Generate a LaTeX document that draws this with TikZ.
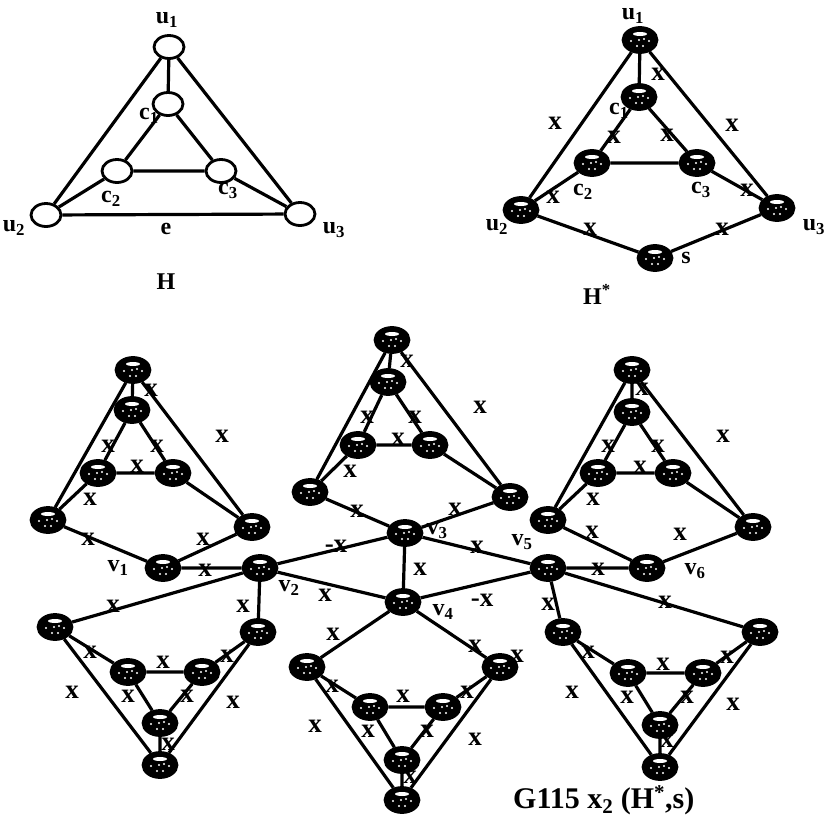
\documentclass[tikz,border=0pt]{standalone}
\usepackage{fontspec}
\setmainfont{Liberation Serif}
\usetikzlibrary{shapes.geometric}
\begin{document}
\begin{tikzpicture}[x=1pt,y=-1pt,
  wn/.style={ellipse, draw, line width=2.8pt, minimum width=30pt, minimum height=23pt, inner sep=0pt, fill=white},
  bn/.style={ellipse, draw, line width=2.8pt, fill=black, minimum width=34pt, minimum height=25pt, inner sep=0pt,
    path picture={\fill[white] ([yshift=6pt]path picture bounding box.center) ellipse (7pt and 2pt);
      \foreach \a/\b in {-9/-1,-3/-6,3/-6,9/-1,-1/0,4/1} \fill[white] ([xshift=\a pt,yshift=\b pt]path picture bounding box.center) circle (1.1pt);}},
  ed/.style={line width=3.2pt},
  xl/.style={font=\fontsize{27}{27}\selectfont\bfseries, inner sep=0pt},
  lb/.style={font=\fontsize{24}{24}\selectfont\bfseries, inner sep=0pt},
  captxt/.style={font=\fontsize{30}{30}\selectfont\bfseries, inner sep=0pt}
]
\useasboundingbox (0,0) rectangle (830,819);

% ---------------- H ----------------
\node[wn] (hu1) at (169,47) {};
\node[wn] (hc1) at (168,104) {};
\node[wn] (hc2) at (117,171) {};
\node[wn] (hc3) at (221,171) {};
\node[wn] (hu2) at (46,215) {};
\node[wn] (hu3) at (300,214) {};
\draw[ed] (hu1)--(hc1) (hc1)--(hc2) (hc1)--(hc3) (hc2)--(hc3) (hc2)--(hu2) (hc3)--(hu3)
          (hu2)--(hu3) (hu1)--(hu2) (hu1)--(hu3);
\node[lb] (lhu1) at (167,20) {u\textsubscript{1}};
\node[lb] (lhc1) at (149,116) {c\textsubscript{1}};
\node[lb] (lhc2) at (111,199) {c\textsubscript{2}};
\node[lb] (lhc3) at (228,191) {c\textsubscript{3}};
\node[lb] (lhu2) at (14,228) {u\textsubscript{2}};
\node[lb] (lhu3) at (334,230) {u\textsubscript{3}};
\node[lb] (lhe) at (166,229) {e};
\node[lb] (lhH) at (166,282) {H};

% ---------------- H* ----------------
\node[bn] (su1) at (640,40) {};
\node[bn] (sc1) at (639,97) {};
\node[bn] (sc2) at (592,163) {};
\node[bn] (sc3) at (697,163) {};
\node[bn] (su2) at (521,210) {};
\node[bn] (su3) at (777,208) {};
\node[bn] (ss) at (655,258) {};
\draw[ed] (su1)--(sc1) (sc1)--(sc2) (sc1)--(sc3) (sc2)--(sc3) (sc2)--(su2) (sc3)--(su3)
          (su2)--(ss) (ss)--(su3) (su1)--(su2) (su1)--(su3);
\node[lb] (lsu1) at (633,16) {u\textsubscript{1}};
\node[lb] (lsc1) at (619,111) {c\textsubscript{1}};
\node[lb] (lsc2) at (583,192) {c\textsubscript{2}};
\node[lb] (lsc3) at (701,190) {c\textsubscript{3}};
\node[lb] (lsu2) at (497,227) {u\textsubscript{2}};
\node[lb] (lsu3) at (814,227) {u\textsubscript{3}};
\node[lb] (lss) at (686,258) {s};
\node[lb] (lsH) at (597,294) {H\textsuperscript{*}};
\node[xl] (sx1) at (658,74) {x};
\node[xl] (sx2) at (555,123) {x};
\node[xl] (sx3) at (732,125) {x};
\node[xl] (sx4) at (614,137) {x};
\node[xl] (sx5) at (667,135) {x};
\node[xl] (sx6) at (553,197) {x};
\node[xl] (sx7) at (747,190) {x};
\node[xl] (sx8) at (590,229) {x};
\node[xl] (sx9) at (722,229) {x};

% ---------------- central vertices ----------------
\node[bn] (v1) at (163,568) {};
\node[bn] (v2) at (260,568) {};
\node[bn] (v3) at (405,533) {};
\node[bn] (v4) at (403,602) {};
\node[bn] (v5) at (548,568) {};
\node[bn] (v6) at (647,568) {};
\draw[ed] (v1)--(v2) (v2)--(v3) (v2)--(v4) (v3)--(v4) (v3)--(v5) (v4)--(v5) (v5)--(v6);
\node[lb] (lv1) at (118,568) {v\textsubscript{1}};
\node[lb] (lv2) at (289,588) {v\textsubscript{2}};
\node[lb] (lv3) at (437,531) {v\textsubscript{3}};
\node[lb] (lv4) at (443,612) {v\textsubscript{4}};
\node[lb] (lv5) at (522,542) {v\textsubscript{5}};
\node[lb] (lv6) at (695,571) {v\textsubscript{6}};
\node[xl] (gx1) at (205,570) {x};
\node[xl] (gx2) at (336,546) {-x};
\node[xl] (gx3) at (325,595) {x};
\node[xl] (gx4) at (420,569) {x};
\node[xl] (gx5) at (477,547) {x};
\node[xl] (gx6) at (482,600) {-x};
\node[xl] (gx7) at (598,569) {x};

% ---------------- gadget A (s = v1) ----------------
\node[bn] (au1) at (133,370) {};
\node[bn] (ac1) at (132,410) {};
\node[bn] (ac2) at (98,473) {};
\node[bn] (ac3) at (173,473) {};
\node[bn] (au2) at (48,520) {};
\node[bn] (au3) at (252,527) {};
\draw[ed] (au1)--(ac1) (ac1)--(ac2) (ac1)--(ac3) (ac2)--(ac3) (ac2)--(au2) (ac3)--(au3)
          (au2)--(v1) (v1)--(au3) (au1)--(au2) (au1)--(au3);
\node[xl] (ax1) at (151,390) {x};
\node[xl] (ax2) at (108,446) {x};
\node[xl] (ax3) at (157,446) {x};
\node[xl] (ax4) at (137,466) {x};
\node[xl] (ax5) at (90,499) {x};
\node[xl] (ax6) at (88,539) {x};
\node[xl] (ax7) at (203,539) {x};
\node[xl] (ax8) at (222,436) {x};

% ---------------- gadget B (s = v3) ----------------
\node[bn] (bu1) at (392,340) {};
\node[bn] (bc1) at (388,382) {};
\node[bn] (bc2) at (358,445) {};
\node[bn] (bc3) at (430,445) {};
\node[bn] (bu2) at (310,492) {};
\node[bn] (bu3) at (510,497) {};
\draw[ed] (bu1)--(bc1) (bc1)--(bc2) (bc1)--(bc3) (bc2)--(bc3) (bc2)--(bu2) (bc3)--(bu3)
          (bu2)--(v3) (v3)--(bu3) (bu1)--(bu2) (bu1)--(bu3);
\node[xl] (bx1) at (407,361) {x};
\node[xl] (bx2) at (367,417) {x};
\node[xl] (bx3) at (415,417) {x};
\node[xl] (bx4) at (398,439) {x};
\node[xl] (bx5) at (350,471) {x};
\node[xl] (bx6) at (357,511) {x};
\node[xl] (bx7) at (455,509) {x};
\node[xl] (bx8) at (480,407) {x};

% ---------------- gadget C (s = v6) ----------------
\node[bn] (cu1) at (632,370) {};
\node[bn] (cc1) at (632,412) {};
\node[bn] (cc2) at (598,473) {};
\node[bn] (cc3) at (673,473) {};
\node[bn] (cu2) at (548,520) {};
\node[bn] (cu3) at (753,527) {};
\draw[ed] (cu1)--(cc1) (cc1)--(cc2) (cc1)--(cc3) (cc2)--(cc3) (cc2)--(cu2) (cc3)--(cu3)
          (cu2)--(v6) (v6)--(cu3) (cu1)--(cu2) (cu1)--(cu3);
\node[xl] (cx1) at (642,389) {x};
\node[xl] (cx2) at (608,446) {x};
\node[xl] (cx3) at (658,446) {x};
\node[xl] (cx4) at (640,467) {x};
\node[xl] (cx5) at (593,499) {x};
\node[xl] (cx6) at (592,532) {x};
\node[xl] (cx7) at (680,534) {x};
\node[xl] (cx8) at (723,436) {x};

% ---------------- gadget D (s = v2) ----------------
\node[bn] (du2) at (55,627) {};
\node[bn] (du3) at (258,632) {};
\node[bn] (dc2) at (128,672) {};
\node[bn] (dc3) at (202,672) {};
\node[bn] (dc1) at (160,723) {};
\node[bn] (du1) at (160,765) {};
\draw[ed] (v2)--(du2) (v2)--(du3) (du2)--(dc2) (dc2)--(dc3) (du3)--(dc3) (dc2)--(dc1) (dc3)--(dc1)
          (dc1)--(du1) (du2)--(du1) (du3)--(du1);
\node[xl] (dx1) at (113,606) {x};
\node[xl] (dx2) at (243,606) {x};
\node[xl] (dx3) at (90,652) {x};
\node[xl] (dx4) at (163,662) {x};
\node[xl] (dx5) at (227,656) {x};
\node[xl] (dx6) at (128,696) {x};
\node[xl] (dx7) at (187,696) {x};
\node[xl] (dx8) at (168,744) {x};
\node[xl] (dx9) at (72,692) {x};
\node[xl] (dx10) at (233,702) {x};

% ---------------- gadget E (s = v4) ----------------
\node[bn] (eu2) at (307,667) {};
\node[bn] (eu3) at (500,667) {};
\node[bn] (ec2) at (370,707) {};
\node[bn] (ec3) at (443,707) {};
\node[bn] (ec1) at (402,760) {};
\node[bn] (eu1) at (402,800) {};
\draw[ed] (v4)--(eu2) (v4)--(eu3) (eu2)--(ec2) (ec2)--(ec3) (eu3)--(ec3) (ec2)--(ec1) (ec3)--(ec1)
          (ec1)--(eu1) (eu2)--(eu1) (eu3)--(eu1);
\node[xl] (ex1) at (333,634) {x};
\node[xl] (ex2) at (475,646) {x};
\node[xl] (ex3) at (517,656) {x};
\node[xl] (ex4) at (332,686) {x};
\node[xl] (ex5) at (403,696) {x};
\node[xl] (ex6) at (467,692) {x};
\node[xl] (ex7) at (368,731) {x};
\node[xl] (ex8) at (427,731) {x};
\node[xl] (ex9) at (410,777) {x};
\node[xl] (ex10) at (315,726) {x};
\node[xl] (ex11) at (475,739) {x};

% ---------------- gadget F (s = v5) ----------------
\node[bn] (fu2) at (563,632) {};
\node[bn] (fu3) at (760,632) {};
\node[bn] (fc2) at (628,673) {};
\node[bn] (fc3) at (703,673) {};
\node[bn] (fc1) at (660,725) {};
\node[bn] (fu1) at (660,767) {};
\draw[ed] (v5)--(fu2) (v5)--(fu3) (fu2)--(fc2) (fc2)--(fc3) (fu3)--(fc3) (fc2)--(fc1) (fc3)--(fc1)
          (fc1)--(fu1) (fu2)--(fu1) (fu3)--(fu1);
\node[xl] (fx1) at (548,604) {x};
\node[xl] (fx2) at (665,602) {x};
\node[xl] (fx3) at (588,652) {x};
\node[xl] (fx4) at (663,664) {x};
\node[xl] (fx5) at (727,657) {x};
\node[xl] (fx6) at (627,697) {x};
\node[xl] (fx7) at (687,697) {x};
\node[xl] (fx8) at (667,741) {x};
\node[xl] (fx9) at (572,692) {x};
\node[xl] (fx10) at (733,704) {x};

% ---------------- caption ----------------
\node[captxt, anchor=west] (capt) at (513,800) {G115 x\textsubscript{2} (H\textsuperscript{*},s)};
\end{tikzpicture}
\end{document}
